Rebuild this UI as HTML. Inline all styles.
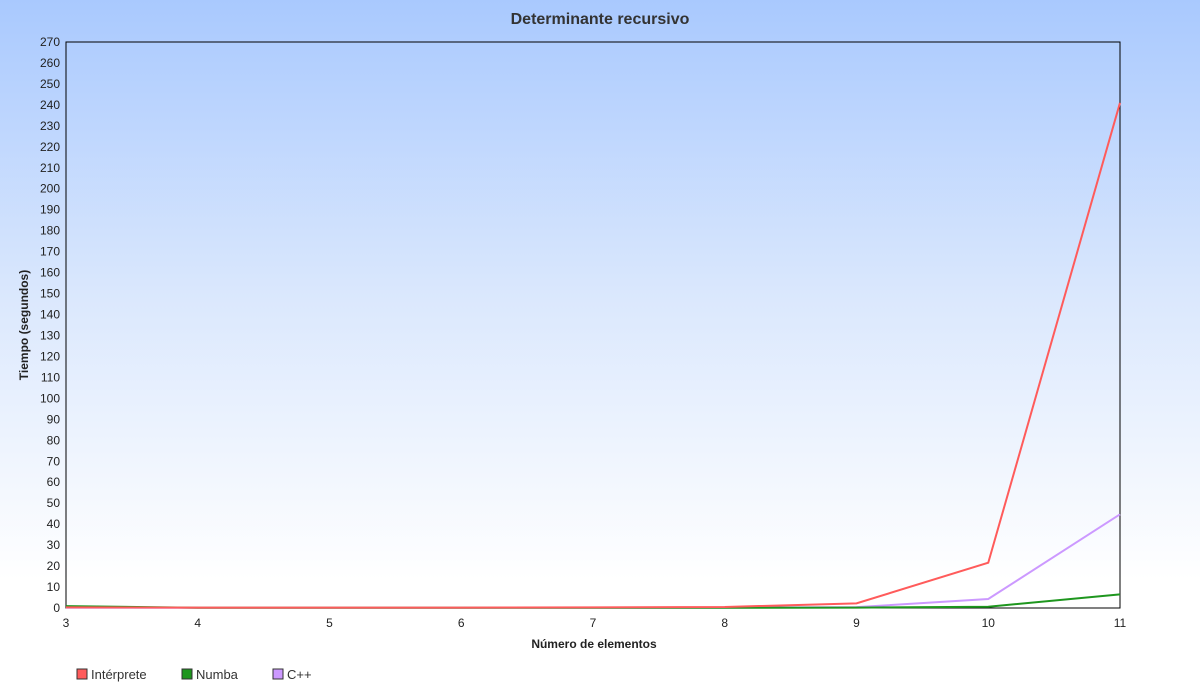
<!DOCTYPE html>
<html><head><meta charset="utf-8"><style>
body{margin:0;width:1200px;height:700px;overflow:hidden;font-family:"Liberation Sans",sans-serif}
#bg{position:absolute;left:0;top:0;width:1200px;height:700px;background:linear-gradient(#a9c9fe 0px,#dbe8fd 300px,#fff 580px,#fff 700px)}
svg{position:absolute;left:0;top:0}
</style></head><body>
<div id="bg"></div>
<svg id="c" width="1200" height="700"></svg>
<script>
const categories=[3,4,5,6,7,8,9,10,11];
const interprete=[0.3,0.2,0.2,0.2,0.3,0.5,2.2,21.6,241];
const numba=[0.9,0.1,0.1,0.1,0.1,0.1,0.2,0.6,6.5];
const cpp=[0.1,0.1,0.1,0.1,0.1,0.2,0.4,4.3,44.7];
const yTicks=[0,10,20,30,40,50,60,70,80,90,100,110,120,130,140,150,160,170,180,190,200,210,220,230,240,250,260,270];
const ns="http://www.w3.org/2000/svg";
const svg=document.getElementById('c');
const L=66,R=1120,T=42,B=608,ymax=270;
const xs=v=>L+(v-3)/(11-3)*(R-L);
const ys=v=>B-v/ymax*(B-T);
function mk(t,a,txt){const e=document.createElementNS(ns,t);for(const k in a)e.setAttribute(k,a[k]);if(txt!==undefined)e.textContent=txt;svg.appendChild(e);return e;}
let e=mk('text',{x:600,y:24,'text-anchor':'middle','font-size':16,'font-weight':'bold',fill:'#333'},'Determinante recursivo');

e=mk('rect',{x:L,y:T,width:R-L,height:B-T,fill:'none',stroke:'#000','stroke-width':1});

yTicks.forEach(v=>{const t=mk('text',{x:L-6,y:ys(v)+4,'text-anchor':'end','font-size':12,fill:'#222'},v);
});
categories.forEach(v=>{const t=mk('text',{x:xs(v),y:B+19,'text-anchor':'middle','font-size':12,fill:'#222'},v);
});
e=mk('text',{x:594,y:648,'text-anchor':'middle','font-size':12,'font-weight':'bold',fill:'#222'},'Número de elementos');

e=mk('text',{x:0,y:0,transform:'translate(28,325) rotate(-90)','text-anchor':'middle','font-size':12,'font-weight':'bold',fill:'#222'},'Tiempo (segundos)');

const series=[['interprete',interprete,'#ff5b5b'],['numba',numba,'#1e961e'],['cpp',cpp,'#cc99ff']];
[series[2],series[1],series[0]].forEach(([n,d,c])=>{
const p=mk('polyline',{points:d.map((v,i)=>xs(categories[i])+','+ys(v)).join(' '),fill:'none',stroke:c,'stroke-width':2});
});
const names=['Intérprete','Numba','C++'];const lx=[77,182,273];
series.forEach(([n,d,c],i)=>{
const r=mk('rect',{x:lx[i],y:669,width:10,height:10,fill:c,stroke:'#333','stroke-width':1});

const t=mk('text',{x:lx[i]+14,y:679,'font-size':13,fill:'#333'},names[i]);
});
</script>
</body></html>
